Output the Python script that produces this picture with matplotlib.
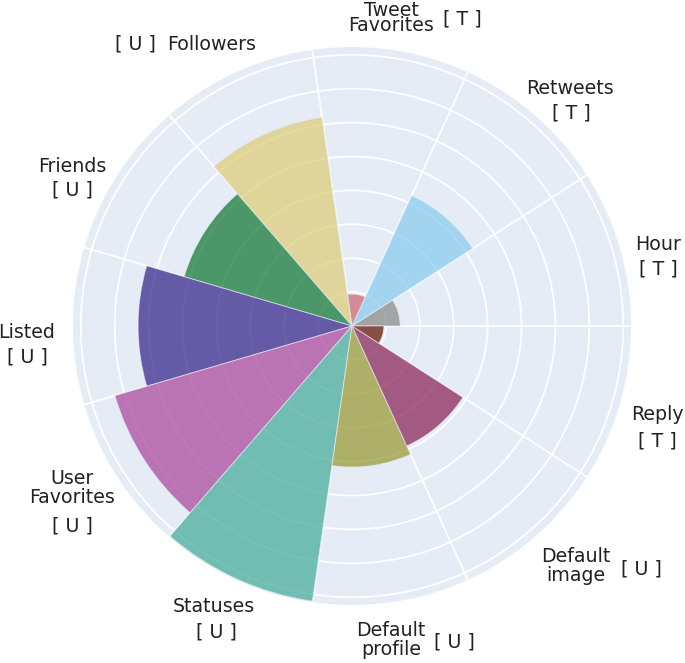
import numpy as np;
import matplotlib.pyplot as plt;

# sectors counter-clockwise, starting at 0 degrees (east)
categories = ["Hour", "Retweets", "Tweet Favorites", "Followers", "Friends", "Listed",
              "User Favorites", "Statuses", "Default profile", "Default image", "Reply"];
groups = ["T", "T", "T", "U", "U", "U", "U", "U", "U", "U", "T"];
importance = [1.42, 4.23, 0.94, 6.22, 5.16, 6.31, 7.29, 8.20, 4.16, 3.89, 0.94];
colors = ["#888888", "#88CCEE", "#CC6677", "#DDCC77", "#117733", "#332288",
          "#AA4499", "#44AA99", "#999933", "#882255", "#661100"];

# label blocks: (text, x px, y px, line spacing) in the 685x663 canvas
label_layout = {
    "Hour": [("Hour", 658, 244, 1), ("[ T ]", 658, 269, 1)],
    "Retweets": [("Retweets", 570, 88, 1), ("[ T ]", 571, 113, 1)],
    "Tweet Favorites": [("Tweet\nFavorites", 391, 18, 0.78), ("[ T ]", 462, 19, 1)],
    "Followers": [("Followers", 212, 44, 1), ("[ U ]", 135, 44, 1)],
    "Friends": [("Friends", 72, 167, 1), ("[ U ]", 72, 190, 1)],
    "Listed": [("Listed", 27, 333, 1), ("[ U ]", 27, 357, 1)],
    "User Favorites": [("User\nFavorites", 72, 488, 0.98), ("[ U ]", 72, 526, 1)],
    "Statuses": [("Statuses", 214, 607, 1), ("[ U ]", 216, 632, 1)],
    "Default profile": [("Default\nprofile", 391, 640, 0.98), ("[ U ]", 454, 642, 1)],
    "Default image": [("Default\nimage", 576, 566, 0.98), ("[ U ]", 641, 569, 1)],
    "Reply": [("Reply", 657, 414, 1), ("[ T ]", 657, 441, 1)],
};

W, H = 685, 663;
BG = "#E5ECF6";


class RosePlot:

    @staticmethod
    def Draw():
        fig = plt.figure(figsize=(W / 100, H / 100), dpi=100);
        ax = fig.add_axes([73 / W, (H - 605) / H, 558 / W, 558 / H], projection="polar");
        RosePlot.__Bars(ax);
        RosePlot.__Labels(fig);
        fig.savefig("out.png", dpi=100);

    @staticmethod
    def __Bars(ax):
        n = len(categories);
        width = 2 * np.pi / n;
        theta = np.arange(n) * width;

        ax.set_facecolor(BG);
        ax.set_axisbelow(True);
        ax.bar(theta, importance, width=width, align="edge", color=colors,
               alpha=0.72, edgecolor=BG, linewidth=0.6, zorder=2);

        ax.set_ylim(0, 8.23);
        ax.set_yticks(np.arange(1, 9));
        ax.set_yticklabels([]);
        ax.set_xticks(theta);
        ax.set_xticklabels([]);
        ax.tick_params(length=0);
        ax.grid(color="white", linewidth=1.3);
        ax.spines["polar"].set_visible(False);

    @staticmethod
    def __Labels(fig):
        for name in categories:
            for text, x, y, spacing in label_layout[name]:
                fig.text(x / W, 1 - y / H, text, ha="center", va="center",
                         linespacing=spacing, fontsize=13.7, color="#222222",
                         family="DejaVu Sans");


RosePlot.Draw();
